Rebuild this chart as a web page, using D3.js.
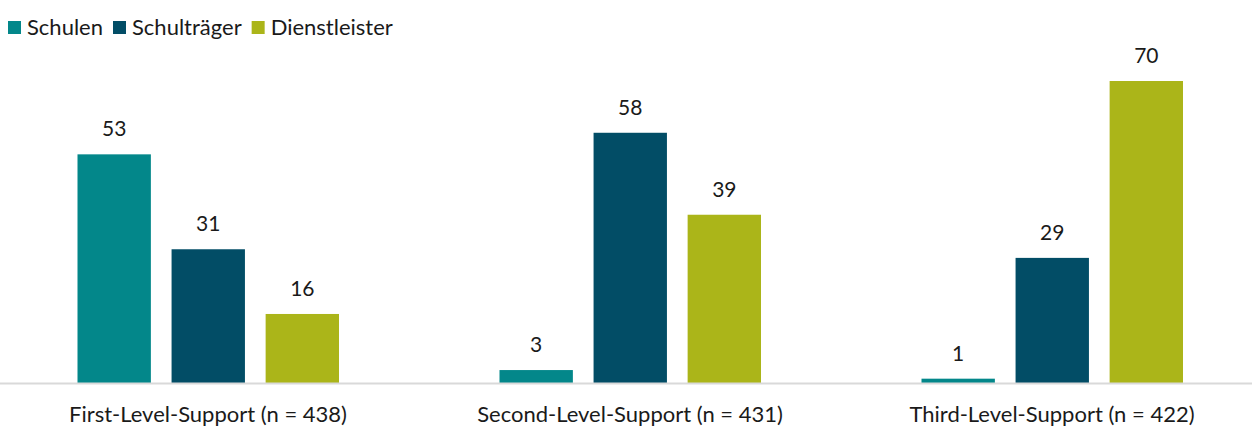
<!DOCTYPE html>
<html>
  <head>
    <meta charset="utf-8">
    <title>Support-Level</title>
    <style>
      body { margin: 0; background: #fff; }
      text { font-family: Lato, "Open Sans", sans-serif; fill: #1a1a1a; }
    </style>
  </head>
  <body>
    <div id="chart"></div>
    <script src="https://cdn.jsdelivr.net/npm/d3@7"></script>
    <script>

        var categories = ['First-Level-Support (n = 438)', 'Second-Level-Support (n = 431)', 'Third-Level-Support (n = 422)'];
        var seriesNames = ['Schulen', 'Schulträger', 'Dienstleister'];
        var schulen = [53, 3, 1];
        var schultraeger = [31, 58, 29];
        var dienstleister = [16, 39, 70];
        var colors = ['#03878a', '#024d66', '#abb519'];

        var width = 1252;
        var height = 426;
        var baseline = 383;
        var fontSize = '21px';

        var data = categories.map(function(c, i) {
          return { cat: c, values: [schulen[i], schultraeger[i], dienstleister[i]] };
        });

        var svg = d3.select('#chart')
          .append('svg')
          .attr('width', width)
          .attr('height', height);

        var x0 = d3.scaleBand()
          .domain(categories)
          .range([-3, 1263])
          .padding(0);

        var x1 = d3.scaleBand()
          .domain(seriesNames)
          .range([80.5, 342])
          .paddingInner(0.22);

        var y = d3.scaleLinear()
          .domain([0, 70])
          .range([baseline, 81]);

        var groups = svg.selectAll('g.group')
          .data(data)
          .enter()
          .append('g')
          .attr('class', 'group')
          .attr('transform', function(d) { return 'translate(' + x0(d.cat) + ',0)'; });

        groups.selectAll('rect')
          .data(function(d) { return d.values.map(function(v, j) { return { name: seriesNames[j], value: v, i: j }; }); })
          .enter()
          .append('rect')
          .attr('x', function(d) { return x1(d.name); })
          .attr('y', function(d) { return y(d.value); })
          .attr('width', x1.bandwidth())
          .attr('height', function(d) { return baseline - y(d.value); })
          .attr('fill', function(d) { return colors[d.i]; });

        groups.selectAll('text.val')
          .data(function(d) { return d.values.map(function(v, j) { return { name: seriesNames[j], value: v }; }); })
          .enter()
          .append('text')
          .attr('class', 'val')
          .attr('x', function(d) { return x1(d.name) + x1.bandwidth() / 2; })
          .attr('y', function(d) { return y(d.value) - 18; })
          .attr('text-anchor', 'middle')
          .style('font-size', fontSize)
          .text(function(d) { return d.value; });

        // x axis
        var xAxis = d3.axisBottom(x0).tickSize(0).tickPadding(0);
        var ax = svg.append('g')
          .attr('transform', 'translate(0,' + baseline + ')')
          .call(xAxis);
        ax.select('.domain').attr('stroke', '#d9d9d9').attr('stroke-width', 2);
        ax.selectAll('text')
          .attr('dy', null)
          .attr('y', 39)
          .style('font-size', '22px')
          .style('font-family', 'Lato, "Open Sans", sans-serif')
          .attr('fill', '#1a1a1a');

        // legend
        var legend = svg.append('g').attr('transform', 'translate(8,0)');
        var lx = 0;
        seriesNames.forEach(function(name, i) {
          var item = legend.append('g').attr('transform', 'translate(' + lx + ',0)');
          item.append('rect')
            .attr('x', 0).attr('y', 21)
            .attr('width', 13).attr('height', 13)
            .attr('fill', colors[i]);
          var t = item.append('text')
            .attr('x', 19).attr('y', 35)
            .style('font-size', '22px')
            .text(name);
          lx += 19 + t.node().getComputedTextLength() + 10;
        });

    </script>
  </body>
</html>
